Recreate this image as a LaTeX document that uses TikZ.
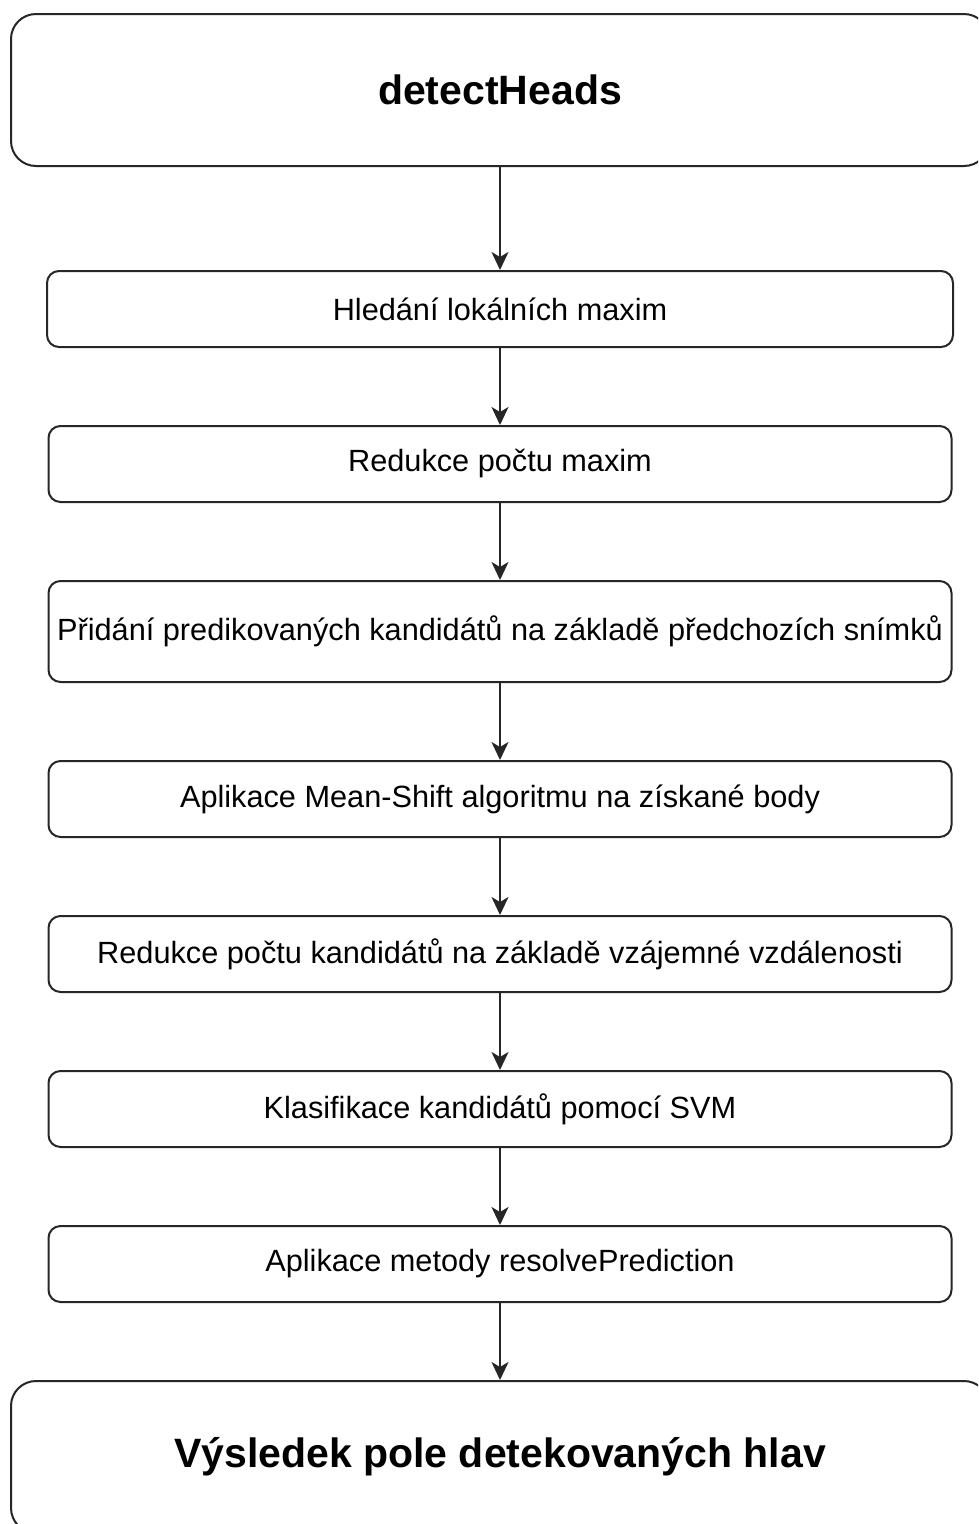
\documentclass[tikz,border=0pt]{standalone}
\usepackage{fontspec}
\setmainfont{Liberation Sans}
\usetikzlibrary{arrows.meta, positioning}
\tikzstyle{arrow}=[-{Stealth[length=18pt, width=17pt, inset=5pt]}, line width=2pt, color=black!85]

\begin{document}
\begin{tikzpicture}[node distance=77pt,
  sbox/.style={rectangle, rounded corners=12pt, draw=black!85, line width=2pt,
               minimum width=903pt, minimum height=76pt, inner sep=4pt,
               align=center, font=\fontsize{30.7}{36}\selectfont},
  ebox/.style={sbox, rounded corners=25pt, minimum width=978pt,
               minimum height=152pt, font=\fontsize{41}{48}\selectfont\bfseries}
]
\useasboundingbox (0,0) rectangle (978pt,-1524pt);
\clip (0,0) rectangle (978pt,-1524pt);

\node[ebox] (start_n) at (500pt,-90pt) {detectHeads};
\node[sbox, below=103pt of start_n, minimum width=906pt] (maxima_n) {Hledání lokálních maxim};
\node[sbox, below=of maxima_n]  (reduce_n)  {Redukce počtu maxim};
\node[sbox, below=of reduce_n, minimum height=101pt]
     (predict_n) {Přidání predikovaných kandidátů na základě předchozích snímků};
\node[sbox, below=of predict_n] (shift_n)   {Aplikace Mean-Shift algoritmu na získané body};
\node[sbox, below=of shift_n]   (dist_n)    {Redukce počtu kandidátů na základě vzájemné vzdálenosti};
\node[sbox, below=of dist_n]    (svm_n)     {Klasifikace kandidátů pomocí SVM};
\node[sbox, below=of svm_n]     (resolve_n) {Aplikace metody resolvePrediction};
\node[ebox, below=of resolve_n] (result_n)  {Výsledek pole detekovaných hlav};

\draw[arrow] (start_n)   -- (maxima_n);
\draw[arrow] (maxima_n)  -- (reduce_n);
\draw[arrow] (reduce_n)  -- (predict_n);
\draw[arrow] (predict_n) -- (shift_n);
\draw[arrow] (shift_n)   -- (dist_n);
\draw[arrow] (dist_n)    -- (svm_n);
\draw[arrow] (svm_n)     -- (resolve_n);
\draw[arrow] (resolve_n) -- (result_n);
\end{tikzpicture}
\end{document}
